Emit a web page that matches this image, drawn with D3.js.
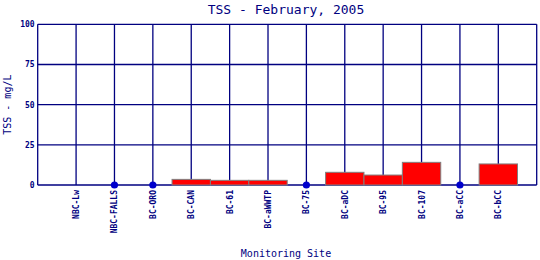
<!DOCTYPE html>
<html>
<head>
<meta charset="utf-8">
<script src="https://cdn.jsdelivr.net/npm/d3@7"></script>
<style>
  body { margin: 0; background: #fff; }
  text { font-family: "DejaVu Sans Mono", "Liberation Mono", monospace; fill: #000080; }
</style>
</head>
<body>
<svg id="chart"></svg>
<script>
// sites along the x axis
const sites = ['NBC-Lw', 'NBC-FALLS', 'BC-ORO', 'BC-CAN', 'BC-61', 'BC-aWWTP',
  'BC-75', 'BC-aDC', 'BC-95', 'BC-107', 'BC-aCC', 'BC-bCC']
// TSS in mg/L, null = not detected (drawn as a dot)
const tss = [0, null, null, 3.5, 2.9, 2.9, null, 7.9, 6.2, 14.1, null, 13.1]
const yTicks = [0, 25, 50, 75, 100]

const width = 540, height = 260
const marginLeft = 37.7, marginRight = 3.3, marginTop = 24.3, marginBottom = 75
const navy = '#000080'

const svg = d3.select('#chart')
  .attr('width', width)
  .attr('height', height)

// linear x with one empty slot on each side
const x = d3.scaleLinear([0, sites.length + 1], [marginLeft, width - marginRight])
const y = d3.scaleLinear([0, 100], [height - marginBottom, marginTop])
const step = x(1) - x(0)

// grid
svg.append('g')
  .selectAll('line')
  .data(yTicks)
  .join('line')
    .attr('x1', x(0)).attr('x2', x(sites.length + 1))
    .attr('y1', d => y(d)).attr('y2', d => y(d))
    .attr('stroke', navy).attr('stroke-width', 1.3)
svg.append('g')
  .selectAll('line')
  .data(d3.range(sites.length + 2))
  .join('line')
    .attr('x1', d => x(d)).attr('x2', d => x(d))
    .attr('y1', y(0)).attr('y2', y(100))
    .attr('stroke', navy).attr('stroke-width', 1.3)

// y ticks
svg.append('g')
  .selectAll('text')
  .data(yTicks)
  .join('text')
    .attr('x', marginLeft - 3)
    .attr('y', d => y(d) + 3)
    .attr('text-anchor', 'end')
    .attr('font-size', 8)
    .attr('font-weight', 'bold')
    .text(d => d)

// bars
const bars = sites.map((s, i) => ({ s, i, v: tss[i] }))
svg.append('g')
  .selectAll('rect')
  .data(bars.filter(d => d.v !== null))
  .join('rect')
    .attr('x', d => x(d.i + 1) - step / 2)
    .attr('width', step)
    .attr('y', d => y(d.v))
    .attr('height', d => y(0) - y(d.v))
    .attr('fill', '#ff0000')
    .attr('stroke', '#808080')
    .attr('stroke-width', 1)

// non-detects
svg.append('g')
  .selectAll('circle')
  .data(bars.filter(d => d.v === null))
  .join('circle')
    .attr('cx', d => x(d.i + 1))
    .attr('cy', y(0))
    .attr('r', 3.6)
    .attr('fill', '#0000cc')

// x tick labels
svg.append('g')
  .selectAll('text')
  .data(sites)
  .join('text')
    .attr('transform', (d, i) => `translate(${x(i + 1) + 3},${y(0) + 5}) rotate(-90)`)
    .attr('text-anchor', 'end')
    .attr('font-size', 8)
    .attr('font-weight', 'bold')
    .text(d => d)

// titles
svg.append('text')
  .attr('x', 286).attr('y', 14)
  .attr('text-anchor', 'middle')
  .attr('font-size', 13)
  .text('TSS - February, 2005')
svg.append('text')
  .attr('x', 286).attr('y', 257)
  .attr('text-anchor', 'middle')
  .attr('font-size', 10)
  .text('Monitoring Site')
svg.append('text')
  .attr('transform', `translate(11,${(y(0) + y(100)) / 2}) rotate(-90)`)
  .attr('text-anchor', 'middle')
  .attr('font-size', 10)
  .text('TSS - mg/L')
</script>
</body>
</html>
